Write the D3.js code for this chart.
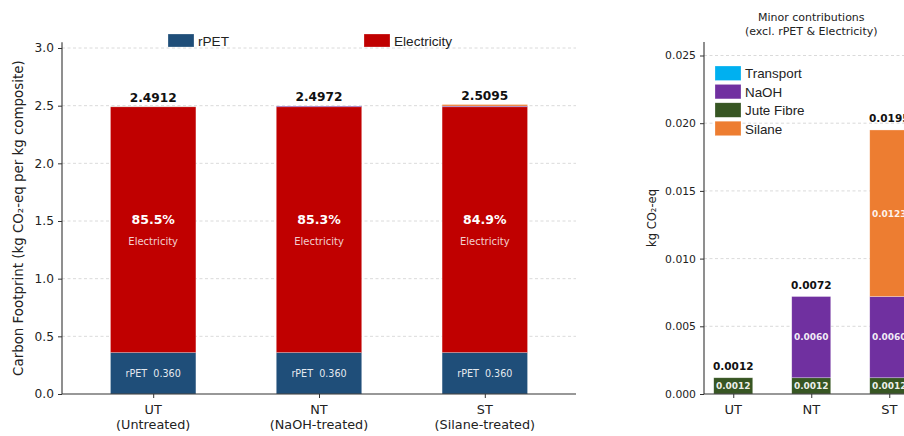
<!DOCTYPE html>
<html>
<head>
<meta charset="utf-8">
<script src="https://cdn.jsdelivr.net/npm/d3@7/dist/d3.min.js"></script>
<style>
  html, body { margin: 0; padding: 0; background: #fff; }
  svg { display: block; }
  text { font-family: "DejaVu Sans", sans-serif; }
  .legend text { font-family: "Liberation Sans", Arial, sans-serif; }
</style>
</head>
<body>
<svg id="chart" width="904" height="436"></svg>
<script>
// Treatments
const codes = ["UT", "NT", "ST"];
const treatmentNames = ["(Untreated)", "(NaOH-treated)", "(Silane-treated)"];

// Major contributions (kg CO2-eq per kg composite)
const rpet = [0.360, 0.360, 0.360];
const electricity = [2.130, 2.130, 2.130];

// Minor contributions (kg CO2-eq per kg composite)
const jute = [0.0012, 0.0012, 0.0012];
const naoh = [0.0000, 0.0060, 0.0060];
const silane = [0.0000, 0.0000, 0.0123];
const transport = [0.0000, 0.0000, 0.0000];

const mainTicks = [0.0, 0.5, 1.0, 1.5, 2.0, 2.5, 3.0];
const minorTicks = [0.000, 0.005, 0.010, 0.015, 0.020, 0.025];

const colors = {
  rpet: "#1f4e79",
  electricity: "#c00000",
  transport: "#00b0f0",
  naoh: "#7030a0",
  jute: "#375623",
  silane: "#ed7d31"
};

const svg = d3.select("#chart");
const axisColor = "#333";

// ---------- shared helpers ----------
function drawGrid(g, y, ticks, x0, x1) {
  g.append("g").selectAll("line").data(ticks.filter(t => t > 0)).join("line")
    .attr("x1", x0).attr("x2", x1)
    .attr("y1", d => y(d)).attr("y2", d => y(d))
    .attr("stroke", "#d0d0d0").attr("stroke-width", 0.8)
    .attr("stroke-dasharray", "3,2.5");
}

function styleAxis(sel, fontSize) {
  sel.select(".domain").remove();
  sel.selectAll(".tick line").attr("stroke", axisColor).attr("stroke-width", 1);
  sel.selectAll(".tick text").attr("fill", "#222").attr("font-size", fontSize)
    .attr("font-family", "DejaVu Sans, sans-serif");
}

// ---------- main panel ----------
const mx = d3.scaleLinear().domain([-0.55, 2.55]).range([62, 576]);
const my = d3.scaleLinear().domain([0, 3.05]).range([394, 394 - 3.05 * 115.33]);
const mainW = 0.515;

const main = svg.append("g");
drawGrid(main, my, mainTicks, 62, 576);

const mainStack = d3.stack().keys(["rpet", "electricity", "jute", "naoh", "silane", "transport"]);
const mainRows = codes.map((c, i) => ({
  i, rpet: rpet[i], electricity: electricity[i], jute: jute[i],
  naoh: naoh[i], silane: silane[i], transport: transport[i]
}));
const mainSeries = mainStack(mainRows);

main.append("g").selectAll("g").data(mainSeries).join("g")
  .attr("fill", d => colors[d.key])
  .selectAll("rect").data(d => d).join("rect")
  .attr("x", d => mx(d.data.i - mainW / 2))
  .attr("width", mx(mainW) - mx(0))
  .attr("y", d => my(d[1]))
  .attr("height", d => Math.max(0, my(d[0]) - my(d[1])))
  .attr("stroke", "#ffffff").attr("stroke-opacity", 0.45).attr("stroke-width", 0.5);

const totals = codes.map((c, i) => rpet[i] + electricity[i] + jute[i] + naoh[i] + silane[i] + transport[i]);

// total labels
main.append("g").selectAll("text").data(codes).join("text")
  .attr("x", (d, i) => mx(i)).attr("y", (d, i) => my(totals[i]) - 5)
  .attr("text-anchor", "middle").attr("font-size", 12.2).attr("font-weight", "bold")
  .attr("fill", "#111").text((d, i) => totals[i].toFixed(4));

// electricity share labels
main.append("g").selectAll("text").data(codes).join("text")
  .attr("x", (d, i) => mx(i)).attr("y", (d, i) => my(rpet[i] + electricity[i] / 2) - 6)
  .attr("text-anchor", "middle").attr("font-size", 12.5).attr("font-weight", "bold")
  .attr("fill", "#fff").text((d, i) => (electricity[i] / totals[i] * 100).toFixed(1) + "%");

main.append("g").selectAll("text").data(codes).join("text")
  .attr("x", (d, i) => mx(i)).attr("y", (d, i) => my(rpet[i] + electricity[i] / 2) + 15)
  .attr("text-anchor", "middle").attr("font-size", 10)
  .attr("fill", "#fff").attr("fill-opacity", 0.82).text("Electricity");

// rPET labels
main.append("g").selectAll("text").data(codes).join("text")
  .attr("x", (d, i) => mx(i)).attr("y", (d, i) => my(rpet[i] / 2) + 3.5)
  .attr("text-anchor", "middle").attr("font-size", 9.6)
  .attr("fill", "#fff").attr("fill-opacity", 0.9)
  .text((d, i) => "rPET\u00a0\u00a0" + rpet[i].toFixed(3));

// axes
const myAxis = main.append("g").attr("transform", "translate(62,0)")
  .call(d3.axisLeft(my).tickValues(mainTicks).tickFormat(d3.format(".1f")).tickSize(4).tickPadding(4));
styleAxis(myAxis, 12.2);

const mxAxis = main.append("g").attr("transform", "translate(0,394)")
  .call(d3.axisBottom(mx).tickValues([0, 1, 2]).tickFormat("").tickSize(4));
styleAxis(mxAxis, 12.5);
main.append("g").selectAll("text").data(codes).join("text")
  .attr("x", (d, i) => mx(i)).attr("y", 414)
  .attr("text-anchor", "middle").attr("font-size", 12.8).attr("fill", "#222").text(d => d);
main.append("g").selectAll("text").data(treatmentNames).join("text")
  .attr("x", (d, i) => mx(i)).attr("y", 429)
  .attr("text-anchor", "middle").attr("font-size", 12.8).attr("fill", "#222").text(d => d);

main.append("line").attr("x1", 62).attr("x2", 62).attr("y1", my(3.05)).attr("y2", 394)
  .attr("stroke", axisColor).attr("stroke-width", 1.1);
main.append("line").attr("x1", 62).attr("x2", 576).attr("y1", 394).attr("y2", 394)
  .attr("stroke", axisColor).attr("stroke-width", 1.1);

main.append("text")
  .attr("transform", "translate(23," + ((394 + my(3.05)) / 2) + ") rotate(-90)")
  .attr("text-anchor", "middle").attr("font-size", 13.4).attr("fill", "#222")
  .text("Carbon Footprint (kg CO\u2082-eq per kg composite)");

// legend (two columns above the plot)
const mainLegend = main.append("g").attr("class", "legend");
const mainLegendItems = [
  { key: "rpet", label: "rPET", x: 168 },
  { key: "electricity", label: "Electricity", x: 364 }
];
mainLegendItems.forEach(it => {
  mainLegend.append("rect").attr("x", it.x).attr("y", 34).attr("width", 26).attr("height", 13)
    .attr("fill", colors[it.key]).attr("stroke", "#fff").attr("stroke-opacity", 0.5).attr("stroke-width", 0.5);
  mainLegend.append("text").attr("x", it.x + 30).attr("y", 46)
    .attr("font-size", 13.6).attr("fill", "#222").text(it.label);
});

// ---------- minor contributions panel ----------
const rx = d3.scaleLinear().domain([-0.375, 2.375]).range([704, 704 + 2.75 * 78]);
const ry = d3.scaleLinear().domain([0, 0.026]).range([394, 394 - 0.026 * 13540]);
const minorW = 0.5;

const side = svg.append("g");
drawGrid(side, ry, minorTicks, 704, rx(2.375));

const minorStack = d3.stack().keys(["jute", "naoh", "silane", "transport"]);
const minorSeries = minorStack(mainRows);

side.append("g").selectAll("g").data(minorSeries).join("g")
  .attr("fill", d => colors[d.key])
  .selectAll("rect").data(d => d).join("rect")
  .attr("x", d => rx(d.data.i - minorW / 2))
  .attr("width", rx(minorW) - rx(0))
  .attr("y", d => ry(d[1]))
  .attr("height", d => Math.max(0, ry(d[0]) - ry(d[1])))
  .attr("stroke", "#ffffff").attr("stroke-opacity", 0.5).attr("stroke-width", 0.6);

// segment value labels
minorSeries.forEach(s => {
  side.append("g").selectAll("text").data(s.filter(d => d[1] - d[0] > 0.0005)).join("text")
    .attr("x", d => rx(d.data.i)).attr("y", d => ry((d[0] + d[1]) / 2) + 3.3)
    .attr("text-anchor", "middle").attr("font-size", 9).attr("font-weight", "bold")
    .attr("fill", "#fff").attr("fill-opacity", 0.92)
    .text(d => (d[1] - d[0]).toFixed(4));
});

const minorTotals = codes.map((c, i) => jute[i] + naoh[i] + silane[i] + transport[i]);
side.append("g").selectAll("text").data(codes).join("text")
  .attr("x", (d, i) => rx(i)).attr("y", (d, i) => ry(minorTotals[i]) - 7.5)
  .attr("text-anchor", "middle").attr("font-size", 10.5).attr("font-weight", "bold")
  .attr("fill", "#111").text((d, i) => minorTotals[i].toFixed(4));

const ryAxis = side.append("g").attr("transform", "translate(704,0)")
  .call(d3.axisLeft(ry).tickValues(minorTicks).tickFormat(d3.format(".3f")).tickSize(4).tickPadding(4));
styleAxis(ryAxis, 10.8);

const rxAxis = side.append("g").attr("transform", "translate(0,394)")
  .call(d3.axisBottom(rx).tickValues([0, 1, 2]).tickFormat("").tickSize(4));
styleAxis(rxAxis, 12.8);
side.append("g").selectAll("text").data(codes).join("text")
  .attr("x", (d, i) => rx(i)).attr("y", 414)
  .attr("text-anchor", "middle").attr("font-size", 13).attr("fill", "#222").text(d => d);

side.append("line").attr("x1", 704).attr("x2", 704).attr("y1", ry(0.026)).attr("y2", 394)
  .attr("stroke", axisColor).attr("stroke-width", 1.1);
side.append("line").attr("x1", 704).attr("x2", rx(2.375)).attr("y1", 394).attr("y2", 394)
  .attr("stroke", axisColor).attr("stroke-width", 1.1);

side.append("text")
  .attr("transform", "translate(656," + ((394 + ry(0.026)) / 2) + ") rotate(-90)")
  .attr("text-anchor", "middle").attr("font-size", 11.5).attr("fill", "#222")
  .text("kg CO\u2082-eq");

const titleX = (704 + rx(2.375)) / 2;
side.append("text").attr("x", titleX).attr("y", 21).attr("text-anchor", "middle")
  .attr("font-size", 11).attr("fill", "#222").text("Minor contributions");
side.append("text").attr("x", titleX).attr("y", 35).attr("text-anchor", "middle")
  .attr("font-size", 11).attr("fill", "#222").text("(excl. rPET & Electricity)");

// legend inside the panel
const sideLegend = side.append("g").attr("class", "legend");
const sideLegendItems = [
  { key: "transport", label: "Transport" },
  { key: "naoh", label: "NaOH" },
  { key: "jute", label: "Jute Fibre" },
  { key: "silane", label: "Silane" }
];
sideLegendItems.forEach((it, k) => {
  const yy = 66 + k * 18.4;
  sideLegend.append("rect").attr("x", 715).attr("y", yy).attr("width", 26).attr("height", 14.5)
    .attr("fill", colors[it.key]).attr("stroke", "#fff").attr("stroke-opacity", 0.5).attr("stroke-width", 0.5);
  sideLegend.append("text").attr("x", 745).attr("y", yy + 12.3)
    .attr("font-size", 13.4).attr("fill", "#222").text(it.label);
});
</script>
</body>
</html>
